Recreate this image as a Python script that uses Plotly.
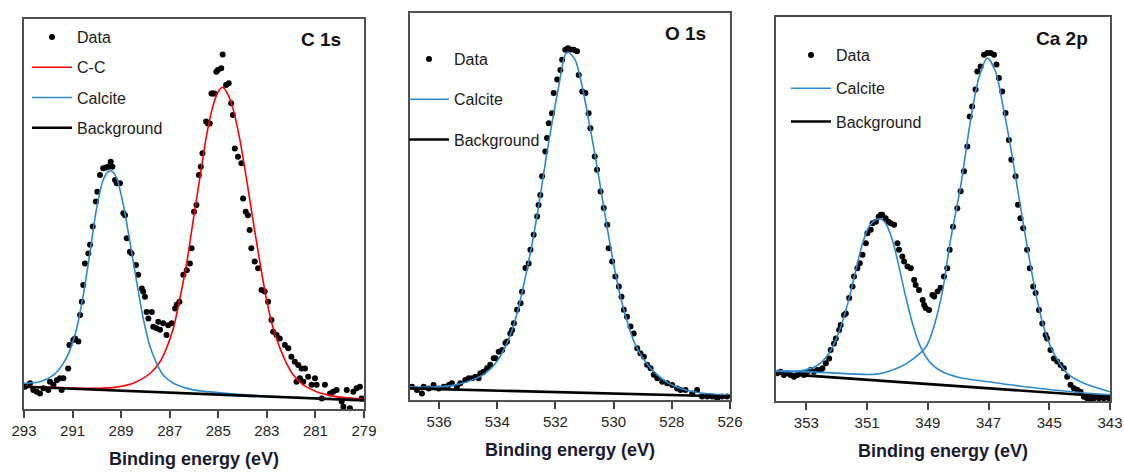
import plotly.graph_objects as go

# ---------------- C 1s ----------------
c1s_energy = [
    292.96, 292.75, 292.62, 292.48, 292.34, 292.20, 292.00, 291.93, 291.79, 291.65,
    291.52, 291.45, 291.38, 291.18, 291.13, 290.97, 290.90, 290.76, 290.69, 290.62,
    290.56, 290.49, 290.35, 290.28, 290.17, 290.04, 289.98, 289.87, 289.74, 289.63,
    289.53, 289.43, 289.36, 289.25, 289.18, 289.05, 288.91, 288.84, 288.77, 288.64,
    288.57, 288.39, 288.30, 288.15, 288.09, 288.02, 287.95, 287.88, 287.74, 287.68,
    287.54, 287.47, 287.40, 287.27, 287.13, 287.06, 286.92, 286.78, 286.71, 286.60,
    286.44, 286.30, 286.17, 286.10, 286.00, 285.90, 285.80, 285.72, 285.65, 285.50,
    285.43, 285.35, 285.28, 285.22, 285.16, 285.08, 285.02, 284.88, 284.82, 284.68,
    284.57, 284.47, 284.40, 284.32, 284.19, 284.05, 283.98, 283.87, 283.78, 283.71,
    283.64, 283.50, 283.36, 283.22, 283.09, 282.95, 282.81, 282.74, 282.60, 282.47,
    282.26, 282.12, 281.99, 281.85, 281.78, 281.71, 281.64, 281.57, 281.50, 281.43,
    281.30, 281.16, 281.02, 280.95, 280.74, 280.61, 280.40, 280.27, 280.13, 279.92,
    279.85, 279.71, 279.58, 279.44, 279.30, 279.17, 279.10,
]
c1s_data = [
    5.7, 6.6, 4.9, 4.4, 4.0, 5.3, 4.9, 7.0, 6.2, 7.4,
    7.9, 4.9, 7.9, 10.4, 16.4, 17.7, 18.1, 17.3, 24.1, 27.5,
    31.8, 37.3, 39.9, 42.1, 46.8, 53.2, 55.7, 60.0, 61.7, 61.9,
    62.1, 63.4, 62.1, 58.7, 57.9, 57.9, 50.2, 49.7, 43.8, 40.3,
    39.9, 36.9, 34.4, 30.9, 30.1, 28.8, 24.9, 23.2, 24.9, 21.1,
    20.7, 22.4, 20.3, 22.0, 19.0, 21.5, 22.0, 25.8, 26.7, 27.5,
    34.4, 35.6, 37.3, 41.2, 50.6, 52.3, 60.0, 62.1, 65.6, 73.7,
    73.2, 73.2, 80.9, 80.9, 80.9, 86.5, 86.9, 87.4, 90.9, 83.1,
    83.5, 78.4, 75.4, 66.8, 64.7, 63.0, 54.0, 50.6, 49.7, 45.9,
    41.2, 37.8, 36.1, 30.5, 30.1, 27.5, 22.8, 19.8, 19.0, 18.1,
    16.4, 15.6, 13.4, 12.1, 7.0, 11.3, 7.9, 10.4, 7.0, 10.4,
    8.3, 6.2, 7.9, 6.2, 2.7, 6.2, 4.0, 4.4, 4.9, 1.9,
    0.6, 4.9, 0.2, 4.4, 5.3, 5.7, 2.7,
]
c1s_cc_energy = [293.0, 292.0, 291.0, 290.0, 289.2, 288.5, 287.81, 287.40, 287.13, 286.85,
                 286.58, 286.30, 286.03, 285.75, 285.48, 285.21, 285.00, 284.82, 284.59, 284.38,
                 284.11, 283.83, 283.56, 283.28, 283.01, 282.74, 282.46, 282.19, 281.91, 281.50,
                 280.95, 280.27, 279.0]
c1s_cc = [5.8, 5.6, 5.4, 5.3, 5.6, 6.6, 9.1, 12.1, 15.6, 20.7,
          28.4, 37.4, 48.5, 59.6, 70.3, 77.9, 81.4, 82.5, 80.5, 76.7,
          69.0, 58.7, 48.0, 37.4, 27.9, 20.7, 15.6, 11.7, 8.7, 6.2,
          4.4, 3.3, 2.5]
c1s_cal_energy = [293.0, 292.34, 291.79, 291.38, 291.11, 290.83, 290.56, 290.28, 290.01, 289.74,
                  289.53, 289.39, 289.18, 288.91, 288.64, 288.36, 288.09, 287.81, 287.54, 287.27,
                  286.85, 286.03, 285.0, 284.0, 283.0, 281.0, 279.0]
c1s_cal = [6.6, 7.0, 8.7, 11.7, 15.1, 20.7, 29.2, 40.3, 51.5, 58.7,
           60.9, 61.0, 59.1, 52.3, 42.9, 32.6, 23.2, 16.0, 11.7, 8.7,
           6.6, 4.9, 4.2, 3.7, 3.3, 2.8, 2.3]
c1s_bg_energy = [293.0, 279.0]
c1s_bg = [5.7, 2.2]
c1s_ticks = [293, 291, 289, 287, 285, 283, 281, 279]

# ---------------- O 1s ----------------
o1s_energy = [
    536.93, 536.76, 536.59, 536.53, 536.36, 536.19, 536.01, 535.84, 535.67, 535.56,
    535.39, 535.27, 535.10, 534.98, 534.86, 534.75, 534.64, 534.58, 534.47, 534.35,
    534.24, 534.12, 534.06, 533.95, 533.83, 533.72, 533.66, 533.55, 533.49, 533.43,
    533.32, 533.20, 533.15, 533.03, 532.92, 532.86, 532.75, 532.63, 532.58, 532.52,
    532.46, 532.35, 532.29, 532.23, 532.12, 532.06, 531.94, 531.83, 531.77, 531.66,
    531.57, 531.49, 531.37, 531.26, 531.20, 531.08, 530.97, 530.86, 530.80, 530.65,
    530.57, 530.45, 530.34, 530.22, 530.17, 530.05, 529.94, 529.82, 529.73, 529.65,
    529.54, 529.42, 529.31, 529.19, 529.08, 528.96, 528.85, 528.73, 528.62, 528.50,
    528.33, 528.16, 527.99, 527.82, 527.70, 527.53, 527.30, 527.13, 526.96, 526.78,
    526.61, 526.44, 526.27, 526.10,
]
o1s_data = [
    3.4, 2.6, 1.7, 3.4, 3.0, 3.9, 3.0, 3.4, 3.9, 4.3,
    3.4, 4.3, 5.2, 5.6, 5.6, 6.0, 5.6, 6.9, 7.3, 8.2,
    9.1, 10.8, 10.8, 12.5, 12.9, 14.7, 15.1, 17.2, 18.1, 19.8,
    23.3, 25.0, 28.0, 34.1, 35.3, 38.8, 42.7, 47.4, 50.4, 53.0,
    57.8, 64.2, 67.7, 71.5, 74.1, 79.3, 82.8, 85.3, 87.9, 90.5,
    90.9, 90.6, 90.5, 90.1, 84.0, 79.7, 79.3, 74.1, 70.2, 62.9,
    59.5, 53.9, 49.6, 45.3, 39.2, 35.8, 31.9, 29.3, 26.7, 23.3,
    21.5, 19.0, 17.2, 13.4, 12.1, 11.2, 9.1, 8.2, 6.5, 5.6,
    4.7, 4.3, 3.9, 3.0, 2.6, 2.6, 1.7, 2.6, 0.9, 0.9,
    0.9, 0.4, 0.9, 0.9,
]
o1s_cal_energy = [537.0, 536.01, 535.32, 534.86, 534.41, 534.06, 533.72, 533.49, 533.26, 533.03,
                  532.80, 532.58, 532.35, 532.12, 531.89, 531.66, 531.55, 531.32, 531.08, 530.86,
                  530.63, 530.40, 530.17, 529.94, 529.71, 529.48, 529.25, 528.91, 528.56, 528.10,
                  527.53, 526.84, 526.0]
o1s_cal = [3.4, 3.4, 4.1, 5.2, 6.9, 9.5, 13.8, 18.1, 24.1, 31.9,
           40.5, 50.0, 61.2, 71.5, 81.0, 89.3, 89.8, 87.8, 81.0, 72.4,
           62.9, 52.6, 42.2, 32.8, 25.0, 19.0, 14.2, 9.9, 6.9, 4.3,
           2.6, 1.7, 1.3]
o1s_bg_energy = [537.0, 526.0]
o1s_bg = [3.0, 0.9]
o1s_ticks = [536, 534, 532, 530, 528, 526]

# ---------------- Ca 2p ----------------
ca2p_energy = [
    353.96, 353.85, 353.74, 353.63, 353.52, 353.41, 353.30, 353.19, 353.08, 352.97,
    352.86, 352.75, 352.64, 352.53, 352.47, 352.36, 352.25, 352.20, 352.09, 352.03,
    351.92, 351.87, 351.76, 351.70, 351.59, 351.48, 351.43, 351.32, 351.24, 351.15,
    351.04, 350.99, 350.88, 350.82, 350.71, 350.62, 350.55, 350.50, 350.39, 350.30,
    350.22, 350.11, 350.00, 349.95, 349.84, 349.78, 349.67, 349.56, 349.45, 349.40,
    349.29, 349.17, 349.12, 349.07, 348.96, 348.85, 348.79, 348.68, 348.58, 348.47,
    348.36, 348.28, 348.17, 348.03, 347.92, 347.81, 347.70, 347.62, 347.54, 347.43,
    347.37, 347.26, 347.15, 347.04, 346.93, 346.82, 346.74, 346.66, 346.55, 346.44,
    346.33, 346.25, 346.11, 346.03, 345.95, 345.86, 345.73, 345.64, 345.53, 345.45,
    345.34, 345.23, 345.12, 345.07, 344.96, 344.85, 344.74, 344.63, 344.52, 344.41,
    344.30, 344.19, 344.08, 343.97, 343.86, 343.75, 343.64, 343.53, 343.36, 343.20,
    343.03,
]
ca2p_data = [
    7.2, 7.6, 6.8, 7.2, 6.8, 6.3, 6.8, 7.2, 6.8, 7.6,
    8.1, 7.6, 8.1, 8.1, 8.5, 9.8, 11.1, 13.3, 15.0, 16.3,
    18.5, 19.8, 22.4, 22.8, 26.8, 29.8, 32.4, 34.6, 35.9, 38.1,
    41.1, 43.7, 44.6, 46.3, 46.7, 48.0, 48.5, 48.5, 47.6, 46.7,
    46.3, 45.9, 41.1, 39.4, 37.6, 36.3, 35.0, 34.6, 31.5, 30.2,
    28.9, 26.3, 25.0, 24.2, 23.7, 27.6, 27.2, 28.5, 29.5, 32.4,
    34.6, 39.4, 45.4, 50.2, 54.6, 59.8, 66.3, 74.1, 76.7, 81.1,
    85.8, 87.1, 90.2, 90.6, 90.6, 90.2, 87.6, 84.1, 80.6, 75.0,
    68.0, 62.8, 58.5, 51.1, 47.6, 45.0, 39.4, 34.6, 29.8, 28.1,
    23.7, 20.2, 17.2, 16.3, 13.3, 11.1, 10.3, 9.4, 8.5, 6.3,
    4.2, 3.3, 2.9, 2.4, 1.1, 0.7, 0.7, 0.7, 0.7, 0.7,
    0.7,
]
ca2p_cal1_energy = [354.0, 353.46, 353.02, 352.70, 352.47, 352.25, 352.03, 351.81, 351.59, 351.37,
                    351.15, 350.93, 350.71, 350.55, 350.39, 350.17, 349.95, 349.73, 349.51, 349.29,
                    349.07, 348.85, 348.52, 348.0, 347.0, 346.0, 345.0, 344.0, 343.0]
ca2p_cal1 = [7.6, 7.6, 8.1, 9.0, 10.3, 12.5, 15.9, 20.7, 26.8, 34.1,
             41.1, 45.5, 47.2, 47.4, 46.3, 42.0, 35.0, 27.2, 20.3, 15.0,
             11.6, 9.4, 7.6, 6.2, 5.0, 3.9, 3.0, 2.2, 1.6]
ca2p_cal2_energy = [354.0, 352.32, 350.67, 349.90, 349.46, 349.05, 348.80, 348.53, 348.25, 347.92,
                    347.59, 347.32, 347.04, 346.77, 346.50, 346.22, 345.95, 345.67, 345.40, 345.12,
                    344.85, 344.41, 343.86, 343.0]
ca2p_cal2 = [7.9, 7.4, 7.0, 8.9, 11.1, 14.2, 19.4, 28.1, 42.0, 55.9,
             73.2, 84.1, 89.3, 85.8, 75.8, 63.7, 50.6, 37.6, 26.3, 17.6,
             12.4, 7.2, 4.6, 2.4]
ca2p_bg_energy = [354.0, 343.0]
ca2p_bg = [7.2, 1.1]
ca2p_ticks = [353, 351, 349, 347, 345, 343]

# ---------------- styling ----------------
RED = "#FF0000"
BLUE = "#2E88CE"
FONT = "Liberation Sans"

fig = go.Figure()


def add_panel(n, energy, data, fits, bg_e, bg_v):
    ax = "" if n == 1 else str(n)
    leg = "legend" if n == 1 else "legend" + str(n)
    fig.add_trace(go.Scatter(
        x=energy, y=data, mode="markers", name="Data",
        marker=dict(color="black", size=6), cliponaxis=False,
        xaxis="x" + ax, yaxis="y" + ax, legend=leg,
        legendgroup=f"p{n}data", legendrank=1))
    rank = 2
    for name, color, e, v, show in fits:
        fig.add_trace(go.Scatter(
            x=e, y=v, mode="lines", name=name,
            line=dict(color=color, width=1.6, shape="spline", smoothing=0.8),
            xaxis="x" + ax, yaxis="y" + ax, legend=leg,
            legendgroup=f"p{n}{name}", showlegend=show, legendrank=rank))
        rank += 1
    fig.add_trace(go.Scatter(
        x=bg_e, y=bg_v, mode="lines", name="Background",
        line=dict(color="black", width=2.6),
        xaxis="x" + ax, yaxis="y" + ax, legend=leg,
        legendgroup=f"p{n}bg", legendrank=10))


add_panel(1, c1s_energy, c1s_data,
          [("C-C", RED, c1s_cc_energy, c1s_cc, True),
           ("Calcite", BLUE, c1s_cal_energy, c1s_cal, True)],
          c1s_bg_energy, c1s_bg)
add_panel(2, o1s_energy, o1s_data,
          [("Calcite", BLUE, o1s_cal_energy, o1s_cal, True)],
          o1s_bg_energy, o1s_bg)
add_panel(3, ca2p_energy, ca2p_data,
          [("Calcite", BLUE, ca2p_cal1_energy, ca2p_cal1, True),
           ("Calcite", BLUE, ca2p_cal2_energy, ca2p_cal2, False)],
          ca2p_bg_energy, ca2p_bg)

W, H = 1124, 473


def xaxis(dom, rng, ticks, anchor):
    return dict(
        domain=[dom[0] / W, dom[1] / W], range=rng, anchor=anchor, automargin=False,
        showline=True, linecolor="#505050", linewidth=1.5, mirror=True,
        showgrid=False, zeroline=False,
        ticks="outside", ticklen=7, tickwidth=1.5, tickcolor="#404040",
        tickvals=ticks, ticktext=[str(t) for t in ticks],
        tickfont=dict(family=FONT, size=15, color="#262626"),
        title=dict(text="<b>Binding energy (eV)</b>", standoff=15,
                   font=dict(family=FONT, size=18, color="#1a1a33")),
    )


def yaxis(dom, anchor):
    return dict(
        domain=[1 - dom[1] / H, 1 - dom[0] / H], range=[0, 100], anchor=anchor,
        automargin=False,
        showline=True, linecolor="#505050", linewidth=1.5, mirror=True,
        showgrid=False, zeroline=False, showticklabels=False, ticks="",
    )


def legend(x, y, gap):
    return dict(
        x=x / W, y=1 - y / H, xanchor="left", yanchor="top",
        bgcolor="rgba(0,0,0,0)", borderwidth=0, traceorder="grouped",
        tracegroupgap=gap, itemwidth=40,
        font=dict(family=FONT, size=16, color="#1a1a1a"),
        itemclick=False, itemdoubleclick=False,
    )


fig.update_layout(
    width=W, height=H, margin=dict(l=0, r=0, t=0, b=0, autoexpand=False),
    paper_bgcolor="white", plot_bgcolor="white", showlegend=True,
    xaxis=xaxis((24, 364), [293, 279], c1s_ticks, "y"),
    yaxis=yaxis((19, 409), "x"),
    xaxis2=xaxis((410, 730), [537, 526], o1s_ticks, "y2"),
    yaxis2=yaxis((13, 400), "x2"),
    xaxis3=xaxis((776, 1110), [354, 343], ca2p_ticks, "y3"),
    yaxis3=yaxis((17, 401), "x3"),
    legend=legend(27, 20, 6.5),
    legend2=legend(404, 42, 16.5),
    legend3=legend(786, 38, 9.5),
    annotations=[
        dict(text="<b>C 1s</b>", x=343 / W, y=1 - 40 / H, xref="paper", yref="paper",
             xanchor="right", yanchor="middle", showarrow=False,
             font=dict(family=FONT, size=19, color="#111111")),
        dict(text="<b>O 1s</b>", x=708 / W, y=1 - 33 / H, xref="paper", yref="paper",
             xanchor="right", yanchor="middle", showarrow=False,
             font=dict(family=FONT, size=19, color="#111111")),
        dict(text="<b>Ca 2p</b>", x=1090 / W, y=1 - 38 / H, xref="paper", yref="paper",
             xanchor="right", yanchor="middle", showarrow=False,
             font=dict(family=FONT, size=19, color="#111111")),
    ],
)

fig.write_html("out.html")
